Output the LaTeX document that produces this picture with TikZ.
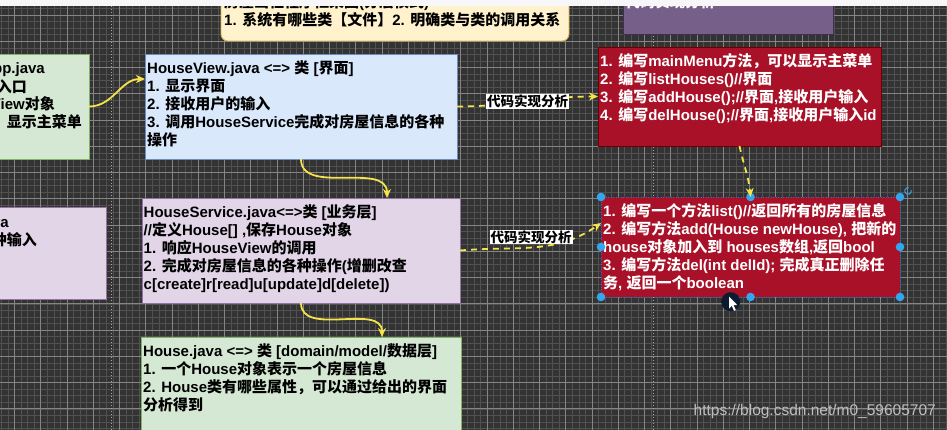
\documentclass[tikz,border=0pt]{standalone}
\usepackage{fontspec}
\setmainfont{Liberation Sans}
\newfontfamily\cjkfont{Noto Sans CJK SC}
% switch to the CJK font for Chinese characters
\XeTeXinterchartokenstate=1
\newXeTeXintercharclass\cjkclass
\count255="2E80
\loop
  \XeTeXcharclass\count255=\cjkclass
  \ifnum\count255<"9FFF
  \advance\count255 by 1
\repeat
\count255="FF00
\loop
  \XeTeXcharclass\count255=\cjkclass
  \ifnum\count255<"FFEF
  \advance\count255 by 1
\repeat
\XeTeXinterchartoks 0 \cjkclass = {\begingroup\cjkfont}
\XeTeXinterchartoks 4095 \cjkclass = {\begingroup\cjkfont}
\XeTeXinterchartoks \cjkclass 0 = {\endgroup}
\XeTeXinterchartoks \cjkclass 4095 = {\endgroup}
\usepackage{tikz}
\usetikzlibrary{arrows.meta}
\definecolor{canvasbg}{HTML}{333333}
\definecolor{gridminor}{HTML}{515151}
\definecolor{gridmajor}{HTML}{858585}
\definecolor{pagebreak}{HTML}{A8A8A8}
\definecolor{greenfill}{HTML}{D5E8D4}
\definecolor{greenline}{HTML}{82B366}
\definecolor{bluefill}{HTML}{DAE8FC}
\definecolor{blueline}{HTML}{6C8EBF}
\definecolor{lilacfill}{HTML}{E1D5E7}
\definecolor{lilacline}{HTML}{9673A6}
\definecolor{codered}{HTML}{A81127}
\definecolor{coderedline}{HTML}{6F0000}
\definecolor{notefill}{HTML}{FFF2CC}
\definecolor{noteline}{HTML}{D6B656}
\definecolor{plumfill}{HTML}{76608A}
\definecolor{plumline}{HTML}{432D57}
\definecolor{flowyellow}{HTML}{F4E44A}
\definecolor{handleblue}{HTML}{33A6EE}
\definecolor{selblue}{HTML}{2C6FD6}
\definecolor{cursorbg}{HTML}{0C1B2E}
\definecolor{watermark}{HTML}{BEBEBE}
\definecolor{topband}{HTML}{F7F7F9}
\tikzset{%
  every box/.style={
    rectangle,
    anchor=north west,
    inner sep=0pt,
    outer sep=0pt,
    line width=0.9pt
  },
  body text/.style={
    anchor=north west,
    align=left,
    inner sep=0pt,
    font=\fontsize{15}{18}\selectfont\bfseries,
    execute at begin node={\rule{0pt}{14pt}}
  },
  cut text/.style={
    anchor=base east,
    inner sep=0pt,
    font=\fontsize{15}{18}\selectfont\bfseries
  },
  flow arrow/.style={
    draw=flowyellow,
    line width=1.8pt,
    -{Stealth[length=9pt,width=8pt]}
  },
  analysis arrow/.style={
    flow arrow,
    dash pattern=on 6pt off 5pt
  },
  analysis label/.style={
    fill=white,
    text=black,
    inner sep=0.8pt,
    font=\fontsize{13.5}{14}\selectfont\bfseries
  },
  sel handle/.style={fill=handleblue},
}

\begin{document}
\begin{tikzpicture}[x=1pt, y=-1pt]
\useasboundingbox (0,0) rectangle (947,430);
\clip (0,0) rectangle (947,430);
\fill[canvasbg] (0,0) rectangle (947,430);
% grid
\foreach \i in {0,...,144}
    \draw[gridminor, line width=0.5pt] ({1.275+6.5625*\i},0) -- ++(0,430);
\foreach \i in {0,...,65}
    \draw[gridminor, line width=0.5pt] (0,{1.875+6.5625*\i}) -- ++(947,0);
\foreach \i in {0,...,35}
    \draw[gridmajor, line width=0.7pt] ({14.4+26.25*\i},0) -- ++(0,430);
\foreach \i in {0,...,16}
    \draw[gridmajor, line width=0.7pt] (0,{15+26.25*\i}) -- ++(947,0);
\draw[pagebreak, line width=0.6pt, dash pattern=on 1pt off 2pt] (111,0) -- (111,430) (653,0) -- (653,430);

% boxes
\node[every box, fill=notefill, draw=noteline, rounded corners=7pt, minimum width=348pt, minimum height=82pt] (note) at (221,-41) {};
\node[every box, fill=plumfill, draw=plumline, minimum width=210pt, minimum height=75pt] (plan) at (623,-41) {};
\node[every box, fill=greenfill, draw=greenline, minimum width=95pt, minimum height=105pt] (app) at (-6,54) {};
\node[every box, fill=bluefill, draw=blueline, minimum width=312pt, minimum height=105pt] (view) at (145,54) {};
\node[every box, fill=codered, draw=coderedline, minimum width=283pt, minimum height=99pt] (redtop) at (598,47) {};
\node[every box, fill=lilacfill, draw=lilacline, minimum width=112pt, minimum height=92pt] (util) at (-6,207) {};
\node[every box, fill=lilacfill, draw=lilacline, minimum width=318pt, minimum height=105pt] (service) at (142,198) {};
\node[every box, fill=codered, draw=selblue, line width=0.8pt, dash pattern=on 1pt off 1.5pt, minimum width=299pt, minimum height=100pt] (redbot) at (601,197) {};
\node[every box, fill=greenfill, draw=greenline, minimum width=320pt, minimum height=110pt] (model) at (141,337) {};

% texts
\node[body text] (notetxt) at (224,-6) {房屋出租程序框架图(分层模式)\\1. 系统有哪些类【文件】2. 明确类与类的调用关系};
\node[anchor=base west, inner sep=0pt, text=white, font=\fontsize{15}{18}\selectfont\bfseries] (plantxt) at (625,8) {代码实现分析};
\node[cut text] (app1) at (45,73.8) {HouseRentApp.java};
\node[cut text] (app2) at (27,92.2) {程序入口};
\node[cut text] (app3) at (55,109.8) {创建HouseView对象};
\node[cut text] (app4) at (82,127.8) {调用该对象，显示主菜单};
\node[cut text] (util1) at (9,227.5) {Utility.java};
\node[cut text] (util2) at (37,245.5) {完成获取用户的各种输入};
\node[body text] (viewtxt) at (147,60) {HouseView.java <=> 类 [界面]\\1. 显示界面\\2. 接收用户的输入\\3. 调用HouseService完成对房屋信息的各种\\操作};
\node[body text, text=white] (redtoptxt) at (600,53) {1. 编写mainMenu方法，可以显示主菜单\\2. 编写listHouses()//界面\\3. 编写addHouse();//界面,接收用户输入\\4. 编写delHouse();//界面,接收用户输入id};
\node[body text] (servicetxt) at (143.5,204.5) {HouseService.java<=>类 [业务层]\\//定义House[] ,保存House对象\\1. 响应HouseView的调用\\2. 完成对房屋信息的各种操作(增删改查\\c[create]r[read]u[update]d[delete])};
\node[body text, text=white] (redbottxt) at (603,203.5) {1. 编写一个方法list()//返回所有的房屋信息\\2. 编写方法add(House newHouse), 把新的\\house对象加入到 houses数组,返回bool\\3. 编写方法del(int delId); 完成真正删除任\\务, 返回一个boolean};
\node[body text] (modeltxt) at (143,343) {House.java <=> 类 [domain/model/数据层]\\1. 一个House对象表示一个房屋信息\\2. House类有哪些属性，可以通过给出的界面\\分析得到};

% selection handles
\foreach \a in {north west,north,north east,west,east,south west,south,south east}
    \fill[sel handle] (redbot.\a) circle (4.3pt);
\draw[handleblue, line width=1pt] ([shift={(8pt,6pt)}]redbot.north east) ++(70:3.3pt) arc[start angle=70, end angle=380, radius=3.3pt];

% connectors
\draw[flow arrow] (app.east) to[out=0,in=180] ([yshift=27.5pt]view.west);
\draw[flow arrow] (view.south) to[out=-90,in=90] ([xshift=86pt]service.north);
\draw[flow arrow] (service.south) to[out=-90,in=90] ([xshift=81pt]model.north);
\draw[analysis arrow] (view.east) to[out=0,in=180] node[analysis label] (lbl1) {代码实现分析} (redtop.west);
\draw[analysis arrow] (service.east) to[out=5,in=215] node[analysis label, xshift=-3pt, yshift=10pt] (lbl2) {代码实现分析} ([yshift=24pt]redbot.west);
\draw[analysis arrow] (redtop.south) to[out=-78,in=95] (redbot.north);

% mouse pointer
\fill[cursorbg] (730.7,301.7) circle (9.5pt);
\fill[white] (729,296.5) -- (729,308.5) -- (731.8,305.8) -- (734,310.8) -- (735.8,310) -- (733.6,305.2) -- (737.4,305.2) -- cycle;

\node[anchor=base east, inner sep=0pt, text=watermark, font=\fontsize{15.5}{16}\selectfont] (mark) at (936,415.5) {https://blog.csdn.net/m0\_59605707};
\fill[topband] (0,0) rectangle (947,6);
\end{tikzpicture}
\end{document}
